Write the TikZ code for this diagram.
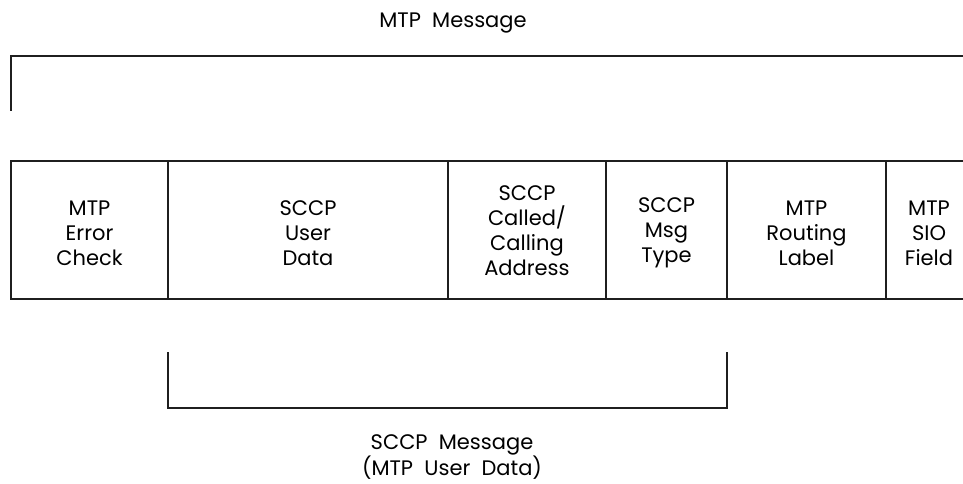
\documentclass[tikz,border=0pt]{standalone}
\usepackage{fontspec}
\setmainfont{Poppins}
\begin{document}
\begin{tikzpicture}[x=1pt,y=-1pt,
  rule/.style={line width=2.4pt,draw=black!88},
  field/.style={align=center,font=\fontsize{21}{25}\selectfont,inner sep=0pt},
  caption/.style={align=center,font={\fontsize{21}{22.5}\selectfont\lineskiplimit=-30pt},inner sep=0pt}]
\useasboundingbox (0,0) rectangle (963,484);
\clip (0,0) rectangle (963,484);
% top bracket
\coordinate (tl) at (11,110);
\coordinate (tc) at (11,56);
\coordinate (tr) at (975,56);
\draw[rule,line cap=rect] (tl) -- (tc) -- (tr);
\node[caption] (mtpmsg) at (453,23) {MTP\ \ Message};
% field boxes
\coordinate (b0t) at (11,161);  \coordinate (b0b) at (11,299);
\coordinate (b1t) at (168,161); \coordinate (b1b) at (168,299);
\coordinate (b2t) at (448,161); \coordinate (b2b) at (448,299);
\coordinate (b3t) at (606,161); \coordinate (b3b) at (606,299);
\coordinate (b4t) at (727,161); \coordinate (b4b) at (727,299);
\coordinate (b5t) at (886,161); \coordinate (b5b) at (886,299);
\coordinate (b6t) at (975,161); \coordinate (b6b) at (975,299);
\draw[rule] (b6t) -- (b0t) -- (b0b) -- (b6b);
\foreach \i in {1,...,5} \draw[rule] (b\i t) -- (b\i b);
\node[field] (f1) at (89.5,233) {MTP\\Error\\Check};
\node[field] (f2) at (308,233) {SCCP\\User\\Data};
\node[field] (f3) at (527,231) {SCCP\\Called/\\Calling\\Address};
\node[field] (f4) at (666.5,233) {SCCP\\Msg\\Type};
\node[field] (f5) at (806.5,233) {MTP\\Routing\\Label};
\node[field] (f6) at (929,233) {MTP\\SIO\\Field};
% bottom bracket
\coordinate (bl) at (168,353);
\coordinate (blc) at (168,408);
\coordinate (brc) at (727,408);
\coordinate (br) at (727,353);
\draw[rule,line cap=rect] (bl) -- (blc) -- (brc) -- (br);
\node[caption] (sccpmsg) at (452,457) {SCCP\ \ Message\\[3pt](MTP\ \ User\ \ Data)};
\end{tikzpicture}
\end{document}
